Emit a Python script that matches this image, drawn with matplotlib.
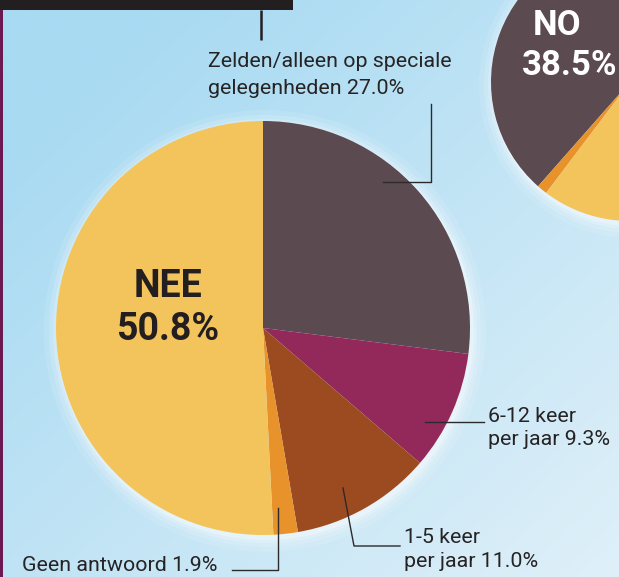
import numpy as np
import matplotlib
matplotlib.use("Agg")
import matplotlib.pyplot as plt
from matplotlib.patches import Rectangle, Circle

# ---------------- data ----------------
main_labels = ["Zelden/alleen op speciale\ngelegenheden 27.0%",
               "6-12 keer\nper jaar 9.3%",
               "1-5 keer\nper jaar 11.0%",
               "Geen antwoord 1.9%",
               "NEE\n50.8%"]
main_values = [27.0, 9.3, 11.0, 1.9, 50.8]
main_colors = ["#5b4a50", "#93295b", "#9b4b1f", "#e8922c", "#f3c45b"]

second_labels = ["NO\n38.5%", "", ""]
second_values = [38.5, 1.2, 60.3]
second_colors = ["#5b4a50", "#e8922c", "#f3c45b"]

# ---------------- layout ----------------
W, H = 619, 577
def Y(y):
    return H - y

plt.rcParams['font.family'] = ['Roboto', 'DejaVu Sans']

fig = plt.figure(figsize=(W / 100, H / 100), dpi=100)
ax = fig.add_axes([0, 0, 1, 1])

# background sky gradient
xx, yy = np.meshgrid(np.linspace(0, 1, 200), np.linspace(0, 1, 200))
t = np.clip(0.55 * xx + 0.55 * yy - 0.15, 0, 1)
c0 = np.array([168, 218, 242]) / 255
c1 = np.array([226, 241, 249]) / 255
img = c0[None, None, :] * (1 - t[..., None]) + c1[None, None, :] * t[..., None]
ax.imshow(img, extent=(0, W, 0, H), origin='upper', aspect='auto', zorder=0)

# halos
main_c, main_r = (263, Y(328)), 207
sec_c, sec_r = (630, Y(82)), 139
for (c, r) in [(main_c, main_r), (sec_c, sec_r)]:
    for k, a in [(14, 0.10), (9, 0.14), (5, 0.2), (2, 0.3)]:
        ax.add_patch(Circle((c[0] + 2, c[1] - 3), r + k, color='white', alpha=a, lw=0, zorder=1))

ax.pie(main_values, colors=main_colors, startangle=90, counterclock=False,
       center=main_c, radius=main_r, wedgeprops=dict(lw=0, zorder=2))
ax.pie(second_values, colors=second_colors, startangle=90, counterclock=True,
       center=sec_c, radius=sec_r, wedgeprops=dict(lw=0, zorder=2))

ax.set_xlim(0, W)
ax.set_ylim(0, H)
ax.set_aspect('auto')
ax.axis('off')

# left stripe and top box
ax.add_patch(Rectangle((0, 0), 3, H, color="#6a1a50", lw=0, zorder=5))
ax.add_patch(Rectangle((0, Y(10)), 293, 10, color="#231f20", lw=0, zorder=5))
ax.plot([261, 261], [Y(10), Y(40)], color="#231f20", lw=1.8, zorder=5, solid_capstyle='butt')

# leader lines
leaders = [
    [(383, 182), (431, 182), (431, 104)],
    [(425, 422), (484, 422)],
    [(343, 488), (354, 546), (400, 546)],
    [(278, 508), (278, 570), (232, 570)],
]
lc = "#2b2b2b"
for pts in leaders:
    ax.plot([p[0] for p in pts], [Y(p[1]) for p in pts], color=lc, lw=1.0, zorder=6)

# labels (left x, baselines)
tc = "#262324"
label_pos = [(208, [67, 94]), (488, [422, 445]), (404, [543, 567]), (22, [571])]
for lab, (x, bls) in zip(main_labels[:4], label_pos):
    for line, b in zip(lab.split("\n"), bls):
        ax.text(x, Y(b), line, fontsize=15.4, color=tc, ha='left', va='baseline', zorder=7)

for line, b in zip(main_labels[4].split("\n"), [297, 340]):
    ax.text(168, Y(b), line, fontsize=27, fontweight='bold', color="#231f20",
            ha='center', va='baseline', zorder=7)

for line, (x, b) in zip(second_labels[0].split("\n"), [(533, 35), (522, 75)]):
    ax.text(x, Y(b), line, fontsize=25, fontweight='bold', color="white",
            ha='left', va='baseline', zorder=7)

fig.savefig("out.png", dpi=100)
